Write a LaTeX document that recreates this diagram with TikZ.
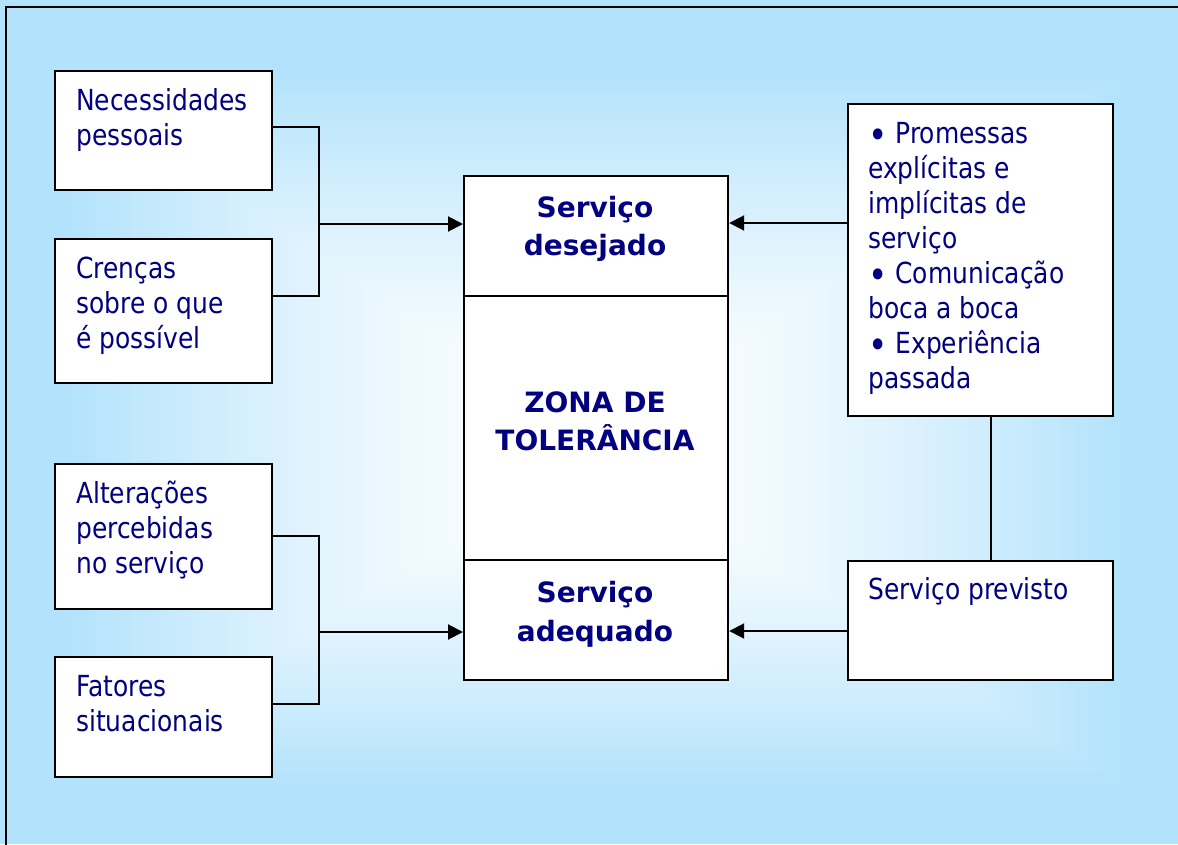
\documentclass[tikz,border=0pt]{standalone}
\usepackage{fontspec}
\setmainfont{DejaVu Sans}
\newfontfamily\tah{DejaVu Sans}[FakeStretch=0.86]
\usetikzlibrary{arrows.meta}
\definecolor{bgblue}{RGB}{178,226,252}
\definecolor{navy}{RGB}{0,0,128}
\newcommand{\ml}[1]{\begin{tabular}[t]{@{}l@{}}#1\end{tabular}}
\newcommand{\mc}[1]{\begin{tabular}[t]{@{}c@{}}#1\end{tabular}}
\newcommand{\blt}{\raisebox{-5.5pt}{\fontsize{38}{38}\selectfont •}\hspace{8pt}}
\begin{document}
\begin{tikzpicture}[x=1pt,y=-1pt,
  box/.style={draw, line width=2.2pt, fill=white, inner sep=0pt, anchor=north west},
  lbl/.style={anchor=base west, inner sep=0pt, text=navy, font=\tah\fontsize{29}{35}\selectfont},
  ctr/.style={anchor=base, inner sep=0pt, text=navy, font=\bfseries\fontsize{28}{38.5}\selectfont},
  conn/.style={line width=2pt},
  arr/.style={conn, -{Triangle[length=15pt,width=15pt]}}]
\useasboundingbox (0,0) rectangle (1178,844);
\clip (0,0) rectangle (1178,844);
% background
\fill[bgblue] (0,0) rectangle (1178,844);
\foreach \i in {0,...,60}{
  \pgfmathsetmacro\t{1-\i/60}
  \pgfmathsetmacro\p{100*(\t^1.5)}
  \fill[bgblue!\p!white] ({595-535*\t},{450-380*\t}) rectangle ({595+535*\t},{450+340*\t});
}
\draw[line width=2pt] (6,7) rectangle (1200,900);
% left boxes
\node[box, minimum width=217pt, minimum height=119pt] (n1) at (54,70) {};
\node[box, minimum width=217pt, minimum height=144pt] (n2) at (54,238) {};
\node[box, minimum width=217pt, minimum height=145pt] (n3) at (54,463) {};
\node[box, minimum width=217pt, minimum height=120pt] (n4) at (54,656) {};
% center boxes
\node[box, minimum width=264pt, minimum height=120pt] (cd) at (463,175) {};
\node[box, minimum width=264pt, minimum height=264pt] (cz) at (463,295) {};
\node[box, minimum width=264pt, minimum height=120pt] (ca) at (463,559) {};
% right boxes
\node[box, minimum width=265pt, minimum height=312pt] (r1) at (847,103) {};
\node[box, minimum width=265pt, minimum height=119pt] (r2) at (847,560) {};
% texts
\node[lbl] (t1) at (76,110.5) {\ml{Necessidades\\pessoais}};
\node[lbl] (t2) at (76,278) {\ml{Crenças\\sobre o que\\é possível}};
\node[lbl] (t3) at (76,503) {\ml{Alterações\\percebidas\\no serviço}};
\node[lbl] (t4) at (76,696) {\ml{Fatores\\situacionais}};
\node[lbl] (t5) at (868,143) {\ml{\blt Promessas\\explícitas e\\implícitas de\\serviço\\\blt Comunicação\\boca a boca\\\blt Experiência\\passada}};
\node[lbl] (t6) at (868,599) {\ml{Serviço previsto}};
\node[ctr] (c1) at (595,217) {\mc{Serviço\\desejado}};
\node[ctr] (c2) at (595,412) {\mc{ZONA DE\\TOLERÂNCIA}};
\node[ctr] (c3) at (595,602.5) {\mc{Serviço\\adequado}};
% connectors
\coordinate (b1t) at (319,127);
\coordinate (b1b) at (319,296);
\coordinate (j1) at (319,224);
\draw[conn] (n1.east |- b1t) -- (b1t) -- (b1b) -- (n2.east |- b1b);
\draw[arr] (j1) -- (j1 -| cd.west);
\coordinate (b2t) at (319,536);
\coordinate (b2b) at (319,704);
\coordinate (j2) at (319,632);
\draw[conn] (n3.east |- b2t) -- (b2t) -- (b2b) -- (n4.east |- b2b);
\draw[arr] (j2) -- (j2 -| ca.west);
\coordinate (k1) at (0,223);
\draw[arr] (r1.west |- k1) -- (cd.east |- k1);
\coordinate (v) at (991,0);
\draw[conn] (r1.south -| v) -- (r2.north -| v);
\coordinate (k2) at (0,631);
\draw[arr] (r2.west |- k2) -- (ca.east |- k2);
\end{tikzpicture}
\end{document}
